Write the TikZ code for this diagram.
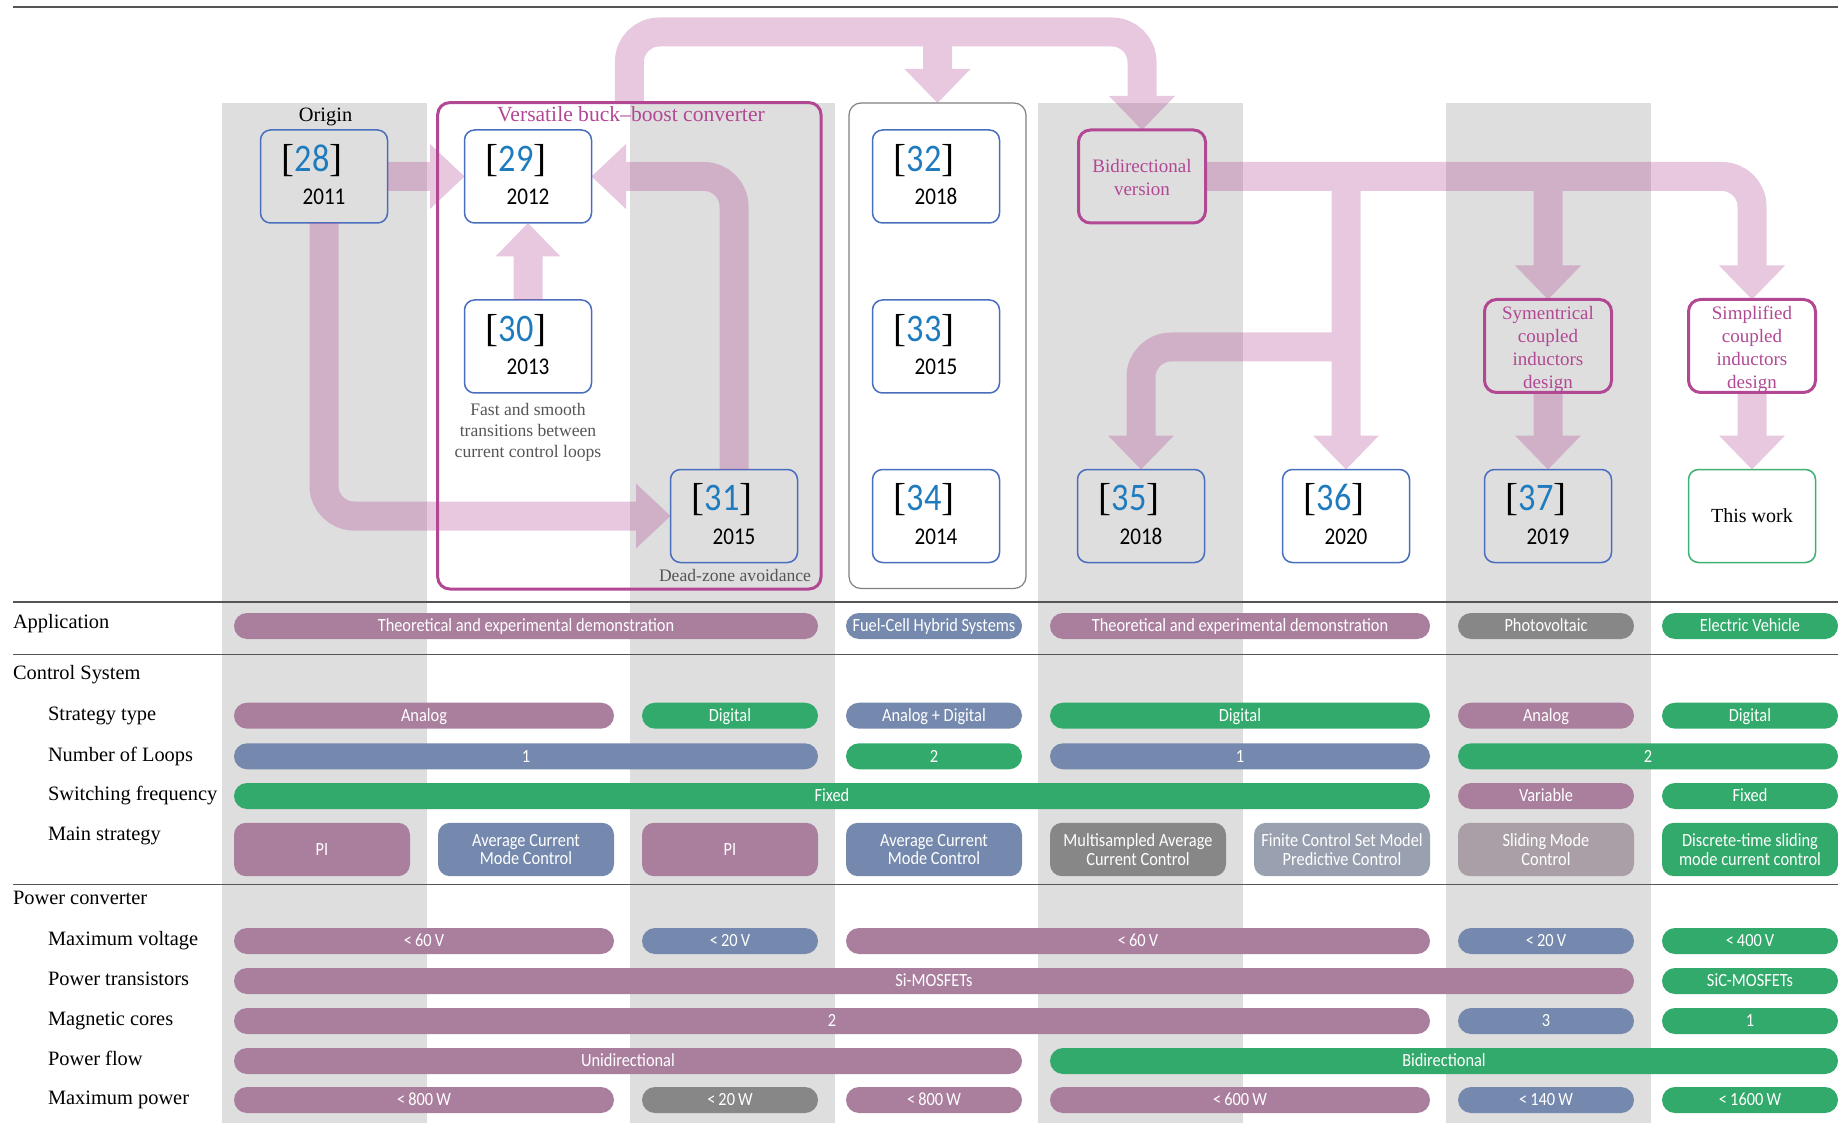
\documentclass[tikz,border=0pt]{standalone}
\usepackage{fontspec}
\setmainfont{Liberation Serif}
\newfontfamily\pillfont[FakeStretch=0.88]{Carlito}
\usetikzlibrary{calc}
\definecolor{mauve}{HTML}{AA7F9E}
\definecolor{pblue}{HTML}{7489AD}
\definecolor{pgreen}{HTML}{31AA6B}
\definecolor{pgray}{HTML}{878787}
\definecolor{pgrayblue}{HTML}{99A1B0}
\definecolor{pgraymauve}{HTML}{AA9FA6}
\definecolor{colgray}{HTML}{DEDEDE}
\definecolor{magenta1}{HTML}{B24894}
\definecolor{refblue}{HTML}{4A6EBE}
\definecolor{numblue}{HTML}{1E7BBE}
\definecolor{boxgreen}{HTML}{3DB072}
\definecolor{arrowpink}{HTML}{B24894}
\definecolor{notegray}{HTML}{555555}
\definecolor{linegray}{HTML}{555555}
\newcommand{\pillbar}[6]{\node[pill, fill=#5, minimum width={(176+204*(#3-#2))*0.5pt}] (#1) at ({118+102*(#2+#3)},#4) {#6};}
\newcommand{\mainpill}[4]{\node[mpill, fill=#3, minimum width=88pt] (#1) at ({118+204*#2},849.5) {#4};}
\newcommand{\refnode}[5]{%
  \node[refbox] (#1) at (#2,#3) {};
  \node[refnum] (#1n) at ({#2-12},{#3-16}) {[\textcolor{numblue}{\pillfont #4}]};
  \node[yeartxt] (#1y) at (#2,{#3+20.5}) {#5};}
\newcommand{\headdown}[1]{\fill[pinkhead] (#1) -- ++(-33,-34) -- ++(66,0) -- cycle;}
\newcommand{\headup}[1]{\fill[pinkhead] (#1) -- ++(-32.5,33.5) -- ++(65,0) -- cycle;}
\newcommand{\headright}[1]{\fill[pinkhead] (#1) -- ++(-34.5,-32.5) -- ++(0,65) -- cycle;}
\newcommand{\headleft}[1]{\fill[pinkhead] (#1) -- ++(34.5,-32.5) -- ++(0,65) -- cycle;}
\begin{document}
\begin{tikzpicture}[x=0.5pt,y=-0.5pt]
\tikzset{
  every node/.style={inner sep=0pt, outer sep=0pt},
  pill/.style={rounded corners=6.5pt, minimum height=13pt, text=white, align=center,
    font=\pillfont\fontsize{9.3}{9.35}\selectfont, text height=5.9pt, text depth=0pt},
  mpill/.style={rounded corners=6pt, minimum height=26.7pt, text=white, align=center,
    font=\pillfont\fontsize{9.3}{9.35}\selectfont},
  rowlab/.style={anchor=west, font=\fontsize{10.2}{12}\selectfont, text height=7pt, text depth=2.2pt},
  refbox/.style={draw=refblue, line width=0.75pt, rounded corners=5pt, minimum width=63.5pt, minimum height=46.5pt},
  refnum/.style={font=\fontsize{19.5}{19.5}\selectfont},
  yeartxt/.style={font=\pillfont\fontsize{12}{12}\selectfont, text height=7.5pt, text depth=0pt},
  magbox/.style={draw=magenta1, line width=1.5pt, rounded corners=6pt, minimum width=63.5pt, minimum height=46.5pt},
  magtxt/.style={text=magenta1, align=center, font=\fontsize{9.5}{11.5}\selectfont},
  notetxt/.style={text=notegray, align=center, font=\fontsize{8.8}{10.5}\selectfont},
  tline/.style={draw=linegray, line width=0.75pt},
  pinkband/.style={draw=arrowpink, line width=14.5pt, rounded corners=15pt},
  pinkhead/.style={fill=arrowpink}
}
\useasboundingbox (0,0) rectangle (1838,1123);
% gray columns
\foreach \L in {222,630,1038,1446} \fill[colgray] (\L,103) rectangle ({\L+205},1123);
% table rules
\draw[tline] (13,7) -- (1838,7);
\draw[tline] (13,602) -- (1838,602);
\draw[tline] (13,654.6) -- (1838,654.6);
\draw[tline] (13,884.7) -- (1838,884.7);
% group frames
\node[draw=magenta1, line width=1.5pt, rounded corners=6pt, minimum width=191.65pt, minimum height=243.2pt] (vers) at (629.35,345.8) {};
\node[draw=gray, line width=0.6pt, rounded corners=6pt, minimum width=88.5pt, minimum height=242.75pt] (c4box) at (937.5,345.75) {};
\node[font=\fontsize{10.2}{12}\selectfont, text height=7pt, text depth=0pt] (origin) at (325.6,114.5) {Origin};
\node[text=magenta1, font=\fontsize{10.8}{12}\selectfont, text height=7pt, text depth=0pt] (verst) at (631,114.5) {Versatile buck--boost converter};
% reference boxes
\refnode{r28}{324}{176.5}{28}{2011}
\refnode{r29}{528}{176.5}{29}{2012}
\refnode{r30}{528}{346.5}{30}{2013}
\refnode{r31}{734}{516}{31}{2015}
\refnode{r32}{936}{176.5}{32}{2018}
\refnode{r33}{936}{346.5}{33}{2015}
\refnode{r34}{936}{516}{34}{2014}
\refnode{r35}{1141}{516}{35}{2018}
\refnode{r36}{1346}{516}{36}{2020}
\refnode{r37}{1548}{516}{37}{2019}
\node[magbox] (bidir) at (1142,176.5) {};
\node[magbox] (sym) at (1548,346) {};
\node[magbox] (simp) at (1752,346) {};
\node[magtxt] (bidirt) at (1142,178) {Bidirectional\\version};
\node[magtxt] (symt) at (1548,349) {Symentrical\\coupled\\inductors\\design};
\node[magtxt] (simpt) at (1752,349) {Simplified\\coupled\\inductors\\design};
\node[refbox, draw=boxgreen, font=\fontsize{10}{12}\selectfont] (tw) at (1752,516) {This work};
\node[notetxt] (fastnote) at (528,432) {Fast and smooth\\transitions between\\current control loops};
\node[notetxt, text height=6pt, text depth=0pt] (deadnote) at (735,575.5) {Dead-zone avoidance};
% pink arrows (one translucent group)
\coordinate (topy) at (0,32);
\coordinate (midy) at (0,347);
\begin{scope}[transparency group, opacity=0.3]
\draw[pinkband] (vers.north) -- (vers.north |- topy) -- (bidir.north |- topy) -- ($(bidir.north)+(0,-33)$);
\headdown{bidir.north}
\draw[pinkband] (c4box.north |- topy) -- ($(c4box.north)+(0,-33)$);
\headdown{c4box.north}
\draw[pinkband] (r28.east) -- ($(r29.west)+(-34,0)$);
\headright{r29.west}
\draw[pinkband] (r30.north) -- ($(r29.south)+(0,33)$);
\headup{r29.south}
\draw[pinkband] (r31.north) -- (r31.north |- r29.east) -- ($(r29.east)+(34,0)$);
\headleft{r29.east}
\draw[pinkband] (r28.south) -- (r28.south |- r31.west) -- ($(r31.west)+(-34,0)$);
\headright{r31.west}
\draw[pinkband] (bidir.east) -- (simp.north |- bidir.east) -- ($(simp.north)+(0,-33)$);
\headdown{simp.north}
\draw[pinkband] (sym.north |- bidir.east) -- ($(sym.north)+(0,-33)$);
\headdown{sym.north}
\draw[pinkband] (r36.north |- bidir.east) -- ($(r36.north)+(0,-33)$);
\headdown{r36.north}
\draw[pinkband] (r36.north |- midy) -- (r35.north |- midy) -- ($(r35.north)+(0,-33)$);
\headdown{r35.north}
\draw[pinkband] (sym.south) -- ($(r37.north)+(0,-33)$);
\headdown{r37.north}
\draw[pinkband] (simp.south) -- ($(tw.north)+(0,-33)$);
\headdown{tw.north}
\end{scope}
% row labels
\node[rowlab] (lapp) at (13,624) {Application};
\node[rowlab] (lctl) at (13,675) {Control System};
\node[rowlab] (lstr) at (48,715.7) {Strategy type};
\node[rowlab] (lloop) at (48,756.3) {Number of Loops};
\node[rowlab] (lsw) at (48,796) {Switching frequency};
\node[rowlab] (lmain) at (48,835.4) {Main strategy};
\node[rowlab] (lpc) at (13,899.3) {Power converter};
\node[rowlab] (lvolt) at (48,941) {Maximum voltage};
\node[rowlab] (ltr) at (48,981) {Power transistors};
\node[rowlab] (lmag) at (48,1021) {Magnetic cores};
\node[rowlab] (lflow) at (48,1061) {Power flow};
\node[rowlab] (lpow) at (48,1100) {Maximum power};
% pills
\pillbar{a1}{1}{3}{626}{mauve}{Theoretical and experimental demonstration}
\pillbar{a2}{4}{4}{626}{pblue}{Fuel-Cell Hybrid Systems}
\pillbar{a3}{5}{6}{626}{mauve}{Theoretical and experimental demonstration}
\pillbar{a4}{7}{7}{626}{pgray}{Photovoltaic}
\pillbar{a5}{8}{8}{626}{pgreen}{Electric Vehicle}
\pillbar{s1}{1}{2}{715.7}{mauve}{Analog}
\pillbar{s2}{3}{3}{715.7}{pgreen}{Digital}
\pillbar{s3}{4}{4}{715.7}{pblue}{Analog + Digital}
\pillbar{s4}{5}{6}{715.7}{pgreen}{Digital}
\pillbar{s5}{7}{7}{715.7}{mauve}{Analog}
\pillbar{s6}{8}{8}{715.7}{pgreen}{Digital}
\pillbar{l1}{1}{3}{756.3}{pblue}{1}
\pillbar{l2}{4}{4}{756.3}{pgreen}{2}
\pillbar{l3}{5}{6}{756.3}{pblue}{1}
\pillbar{l4}{7}{8}{756.3}{pgreen}{2}
\pillbar{f1}{1}{6}{796}{pgreen}{Fixed}
\pillbar{f2}{7}{7}{796}{mauve}{Variable}
\pillbar{f3}{8}{8}{796}{pgreen}{Fixed}
\mainpill{m1}{1}{mauve}{PI}
\mainpill{m2}{2}{pblue}{Average Current\\Mode Control}
\mainpill{m3}{3}{mauve}{PI}
\mainpill{m4}{4}{pblue}{Average Current\\Mode Control}
\mainpill{m5}{5}{pgray}{Multisampled Average\\Current Control}
\mainpill{m6}{6}{pgrayblue}{Finite Control Set Model\\Predictive Control}
\mainpill{m7}{7}{pgraymauve}{Sliding Mode\\Control}
\mainpill{m8}{8}{pgreen}{Discrete-time sliding\\mode current control}
\pillbar{v1}{1}{2}{941}{mauve}{<\,60\,V}
\pillbar{v2}{3}{3}{941}{pblue}{<\,20\,V}
\pillbar{v3}{4}{6}{941}{mauve}{<\,60\,V}
\pillbar{v4}{7}{7}{941}{pblue}{<\,20\,V}
\pillbar{v5}{8}{8}{941}{pgreen}{<\,400\,V}
\pillbar{t1}{1}{7}{981}{mauve}{Si-MOSFETs}
\pillbar{t2}{8}{8}{981}{pgreen}{SiC-MOSFETs}
\pillbar{g1}{1}{6}{1021}{mauve}{2}
\pillbar{g2}{7}{7}{1021}{pblue}{3}
\pillbar{g3}{8}{8}{1021}{pgreen}{1}
\pillbar{w1}{1}{4}{1061}{mauve}{Unidirectional}
\pillbar{w2}{5}{8}{1061}{pgreen}{Bidirectional}
\pillbar{q1}{1}{2}{1100}{mauve}{<\,800\,W}
\pillbar{q2}{3}{3}{1100}{pgray}{<\,20\,W}
\pillbar{q3}{4}{4}{1100}{mauve}{<\,800\,W}
\pillbar{q4}{5}{6}{1100}{mauve}{<\,600\,W}
\pillbar{q5}{7}{7}{1100}{pblue}{<\,140\,W}
\pillbar{q6}{8}{8}{1100}{pgreen}{<\,1600\,W}
\end{tikzpicture}
\end{document}
